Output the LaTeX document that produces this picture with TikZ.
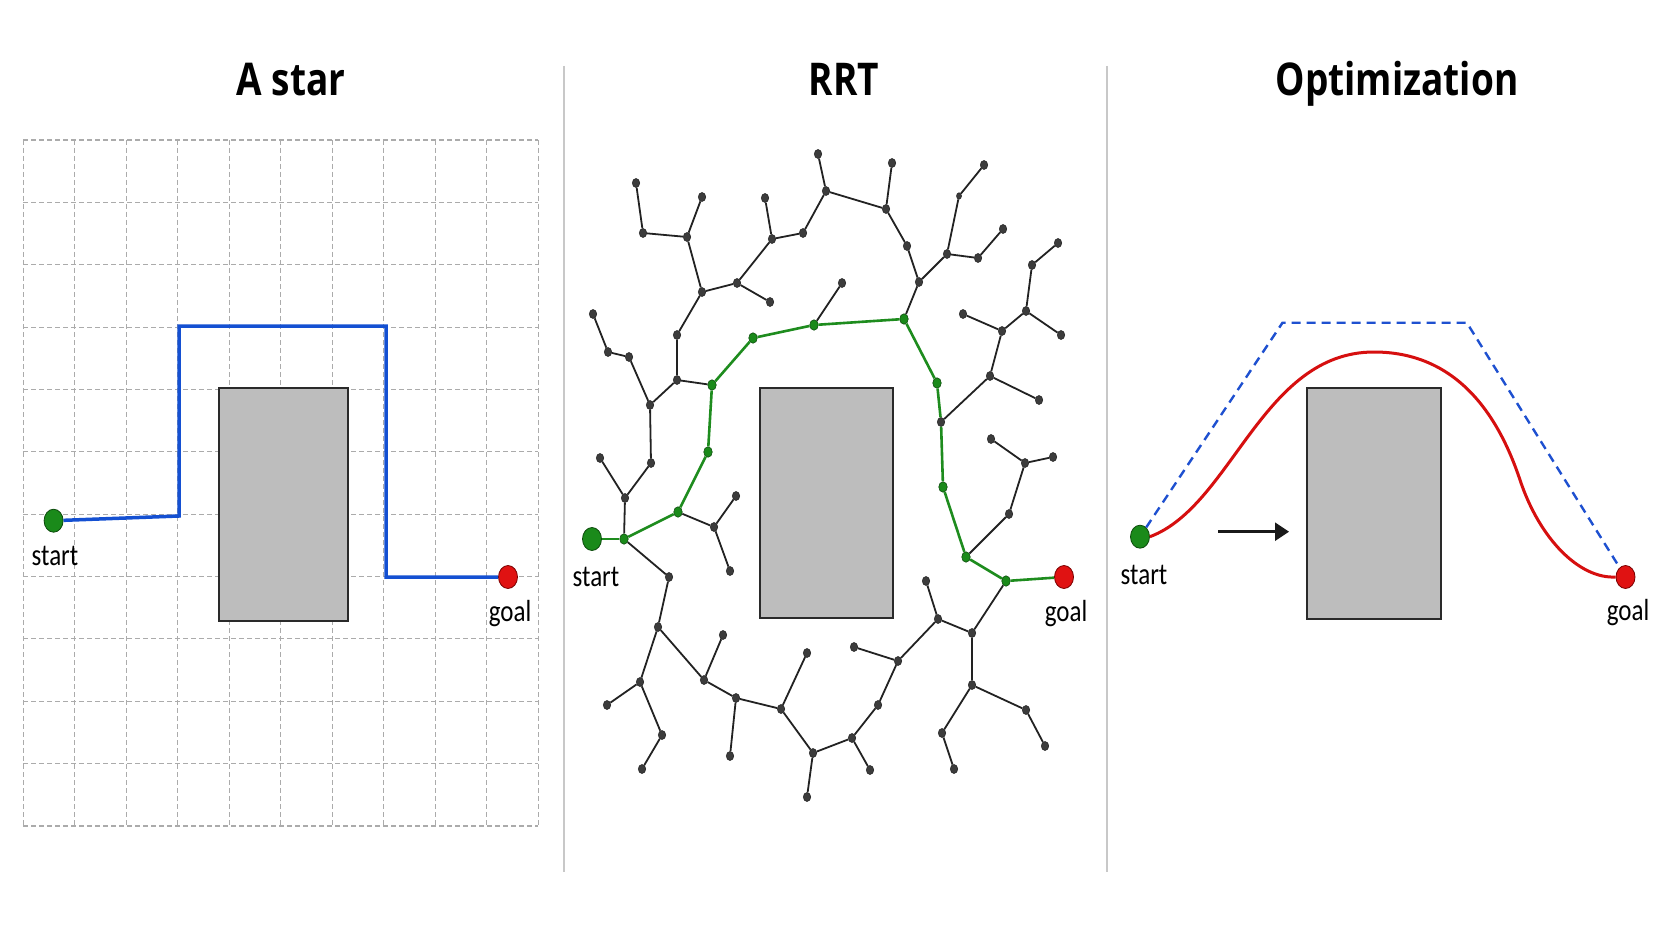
\documentclass[tikz,border=0pt]{standalone}
\usepackage{graphicx}
\usepackage{fontspec}
\setmainfont{Carlito}
\newfontfamily\titlefont{Open Sans}
\usetikzlibrary{shapes.geometric,arrows.meta}
\definecolor{gridgray}{HTML}{ABABAB}
\definecolor{divgray}{HTML}{C8C8C8}
\definecolor{obfill}{HTML}{BDBDBD}
\definecolor{obline}{HTML}{2A2A2A}
\definecolor{pathblue}{HTML}{1450D2}
\definecolor{dashblue}{HTML}{1E50D0}
\definecolor{ptgreen}{HTML}{1A8A1A}
\definecolor{ptgreenline}{HTML}{0C4A0C}
\definecolor{pathgreen}{HTML}{1E8C1E}
\definecolor{ptred}{HTML}{E01212}
\definecolor{ptredline}{HTML}{7A0000}
\definecolor{curvered}{HTML}{D60F0F}
\definecolor{treenode}{HTML}{3C3C3C}
\definecolor{treeedge}{HTML}{222222}
\newcommand\vstretch[1]{\scalebox{1}[1.22]{#1}}
\tikzset{
  titletext/.style={anchor=base, inner sep=0pt, text=black,
    font=\titlefont\bfseries\fontsize{37}{40}\selectfont},
  labeltext/.style={anchor=base, inner sep=0pt, text=black,
    font=\fontsize{25}{28}\selectfont},
  gridline/.style={draw=gridgray, line width=1.1pt, dash pattern=on 5pt off 3pt},
  divider/.style={draw=divgray, line width=1.5pt},
  obstacle/.style={fill=obfill, draw=obline, line width=2pt},
  startpt/.style={ellipse, inner sep=0pt, minimum width=19pt, minimum height=23pt,
    fill=ptgreen, draw=ptgreenline, line width=0.8pt},
  goalpt/.style={ellipse, inner sep=0pt, minimum width=19pt, minimum height=23pt,
    fill=ptred, draw=ptredline, line width=0.8pt},
  rn/.style={ellipse, inner sep=0pt, minimum width=7.5pt, minimum height=9pt,
    fill=treenode, draw=treeedge, line width=0.5pt},
  gn/.style={ellipse, inner sep=0pt, minimum width=8.5pt, minimum height=10.5pt,
    fill=ptgreen, draw=ptgreenline, line width=0.6pt},
  redge/.style={draw=treeedge, line width=1.8pt},
  gedge/.style={draw=pathgreen, line width=2.6pt},
  astarpath/.style={draw=pathblue, line width=3.5pt, line join=miter},
  dashpath/.style={draw=dashblue, line width=2.4pt, dash pattern=on 9pt off 6pt},
  optcurve/.style={draw=curvered, line width=3pt},
  motion/.style={draw=black!90, line width=2.6pt, -{Triangle[length=14pt,width=18pt]}}
}
\begin{document}
\begin{tikzpicture}[x=1pt,y=-1pt]
\fill[white] (0,0) rectangle (1672,941);
\useasboundingbox (0,0) rectangle (1672,941);

% dividers
\draw[divider] (564,66) -- (564,872);
\draw[divider] (1107,66) -- (1107,872);

% titles
\node[titletext] (t1) at (291,96) {\vstretch{A star}};
\node[titletext] (t2) at (844,96) {\vstretch{RRT}};
\node[titletext] (t3) at (1397,96) {\vstretch{Optimization}};

% ================= A star =================
\foreach \i in {0,...,10}
  \draw[gridline] ({23.3+51.5*\i},140) -- ({23.3+51.5*\i},826);
\foreach \j in {0,...,11}
  \draw[gridline] (23.3,{140+62.36*\j}) -- (538.3,{140+62.36*\j});
\draw[obstacle] (219,388) rectangle (348,621);
\coordinate (a1) at (179,516);
\coordinate (a2) at (179,326);
\coordinate (a3) at (386,326);
\coordinate (a4) at (386,577);
\node[startpt] (as) at (53.6,520.7) {};
\node[goalpt] (ag) at (508,577) {};
\draw[astarpath] (as) -- (a1) -- (a2) -- (a3) -- (a4) -- (ag);
\node[labeltext] (asl) at (55,565) {\vstretch{start}};
\node[labeltext] (agl) at (510,621) {\vstretch{goal}};

% ================= RRT =================
\draw[obstacle] (760,388) rectangle (893,618);
% tree nodes
\node[rn] (n1) at (818,154) {};
\node[rn] (n2) at (826,191) {};
\node[rn] (n3) at (803,233) {};
\node[rn] (n4) at (772,239) {};
\node[rn] (n5) at (765,198) {};
\node[rn] (n6) at (737,283) {};
\node[rn] (n7) at (770,302) {};
\node[rn] (n8) at (702,292) {};
\node[rn] (n9) at (687,237) {};
\node[rn] (n10) at (702,197) {};
\node[rn] (n11) at (643,233) {};
\node[rn] (n12) at (636,183) {};
\node[rn] (n13) at (677,335) {};
\node[rn] (n14) at (677,380) {};
\node[rn] (n15) at (650,405) {};
\node[rn] (n16) at (629,357) {};
\node[rn] (n17) at (608,352) {};
\node[rn] (n18) at (593,314) {};
\node[rn] (n19) at (651,463) {};
\node[rn] (n20) at (625,498) {};
\node[rn] (n21) at (600,458) {};
\node[rn] (n22) at (892,163) {};
\node[rn] (n23) at (886,209) {};
\node[rn] (n24) at (907,246) {};
\node[rn] (n25) at (919,282) {};
\node[rn] (n26) at (947,254) {};
\node[rn] (n27) at (978,258) {};
\node[rn] (n28) at (1003,229) {};
\node[rn, minimum width=5pt, minimum height=6.5pt] (n29) at (959,196) {};
\node[rn] (n30) at (984,165) {};
\node[rn] (n31) at (842,283) {};
\node[rn] (n32) at (941,422) {};
\node[rn] (n33) at (990,376) {};
\node[rn] (n34) at (1002,331) {};
\node[rn] (n35) at (963,314) {};
\node[rn] (n36) at (1026,311) {};
\node[rn] (n37) at (1032,265) {};
\node[rn] (n38) at (1058,243) {};
\node[rn] (n39) at (1061,335) {};
\node[rn] (n40) at (1039,400) {};
\node[rn] (n41) at (1009,514) {};
\node[rn] (n42) at (1025,463) {};
\node[rn] (n43) at (991,439) {};
\node[rn] (n44) at (1053,457) {};
\node[rn] (n45) at (972,633) {};
\node[rn] (n46) at (938,619) {};
\node[rn] (n47) at (926,581) {};
\node[rn] (n48) at (898,661) {};
\node[rn] (n49) at (854,647) {};
\node[rn] (n50) at (878,705) {};
\node[rn] (n51) at (852,738) {};
\node[rn] (n52) at (870,770) {};
\node[rn] (n53) at (813,753) {};
\node[rn] (n54) at (807,797) {};
\node[rn] (n55) at (781,709) {};
\node[rn] (n56) at (807,653) {};
\node[rn] (n57) at (736,698) {};
\node[rn] (n58) at (730,756) {};
\node[rn] (n59) at (704,680) {};
\node[rn] (n60) at (723,635) {};
\node[rn] (n61) at (658,627) {};
\node[rn] (n62) at (669,577) {};
\node[rn] (n63) at (640,682) {};
\node[rn] (n64) at (607,705) {};
\node[rn] (n65) at (662,735) {};
\node[rn] (n66) at (642,769) {};
\node[rn] (n67) at (714,527) {};
\node[rn] (n68) at (736,496) {};
\node[rn] (n69) at (730,571) {};
\node[rn] (n70) at (972,685) {};
\node[rn] (n71) at (1026,710) {};
\node[rn] (n72) at (1045,746) {};
\node[rn] (n73) at (942,733) {};
\node[rn] (n74) at (954,769) {};
% path nodes
\node[gn] (g1) at (624,539) {};
\node[gn] (g2) at (678,512) {};
\node[gn] (g3) at (708,452) {};
\node[gn] (g4) at (712,385) {};
\node[gn] (g5) at (753,338) {};
\node[gn] (g6) at (814,325) {};
\node[gn] (g7) at (904,319) {};
\node[gn] (g8) at (937,383) {};
\node[gn] (g9) at (943,487) {};
\node[gn] (g10) at (966,557) {};
\node[gn] (g11) at (1006,581) {};
\node[startpt] (rs) at (592,539) {};
\node[goalpt] (rg) at (1064,577) {};
% tree edges
\foreach \u/\v in {n1/n2, n2/n3, n2/n23, n23/n22, n23/n24, n24/n25, n25/g7, n25/n26,
  n26/n27, n27/n28, n26/n29, n29/n30, n3/n4, n4/n5, n4/n6, n6/n7, n6/n8, n8/n9,
  n9/n10, n9/n11, n11/n12, n8/n13, n13/n14, n14/g4, n14/n15, n15/n16, n16/n17,
  n17/n18, n15/n19, n19/n20, n21/n20, n20/g1, g2/n67, n67/n68, n67/n69,
  g1/n62, n62/n61, n61/n63, n63/n64, n63/n65, n65/n66, n61/n59, n59/n60, n59/n57,
  n57/n58, n57/n55, n55/n56, n55/n53, n53/n54, n53/n51, n51/n52, n51/n50, n50/n48,
  n48/n49, n48/n46, n46/n47, n46/n45, n45/g11, n45/n70, n70/n71, n71/n72, n70/n73,
  n73/n74, g10/n41, n41/n42, n42/n43, n42/n44, g6/n31, n32/n33, n33/n34, n33/n40,
  n34/n35, n34/n36, n36/n37, n37/n38, n36/n39}
  \draw[redge] (\u) -- (\v);
% path edges
\foreach \u/\v in {rs/g1, g1/g2, g2/g3, g3/g4, g4/g5, g5/g6, g6/g7, g7/g8, g8/n32,
  n32/g9, g9/g10, g10/g11, g11/rg}
  \draw[gedge] (\u) -- (\v);
\node[labeltext] (rsl) at (596,586) {\vstretch{start}};
\node[labeltext] (rgl) at (1066,621) {\vstretch{goal}};

% ================= Optimization =================
\draw[obstacle] (1307,388) rectangle (1441,619);
\node[startpt] (os) at (1140,536.7) {};
\node[goalpt] (og) at (1625.5,577) {};
\coordinate (b1) at (1282.5,322.7);
\coordinate (b2) at (1466.8,322.7);
\draw[dashpath] (os) -- (b1) -- (b2) -- (og);
\coordinate (p1) at (1374,352);
\coordinate (p2) at (1520,480);
\draw[optcurve] (os.east) .. controls (1232,506) and (1262,352) .. (p1)
  .. controls (1450,352) and (1495,405) .. (p2)
  .. controls (1540,540) and (1580,579) .. (og.west);
\coordinate (m1) at (1218,531.7);
\coordinate (m2) at (1289,531.7);
\draw[motion] (m1) -- (m2);
\node[labeltext] (osl) at (1144,584) {\vstretch{start}};
\node[labeltext] (ogl) at (1628,620) {\vstretch{goal}};
\end{tikzpicture}
\end{document}
